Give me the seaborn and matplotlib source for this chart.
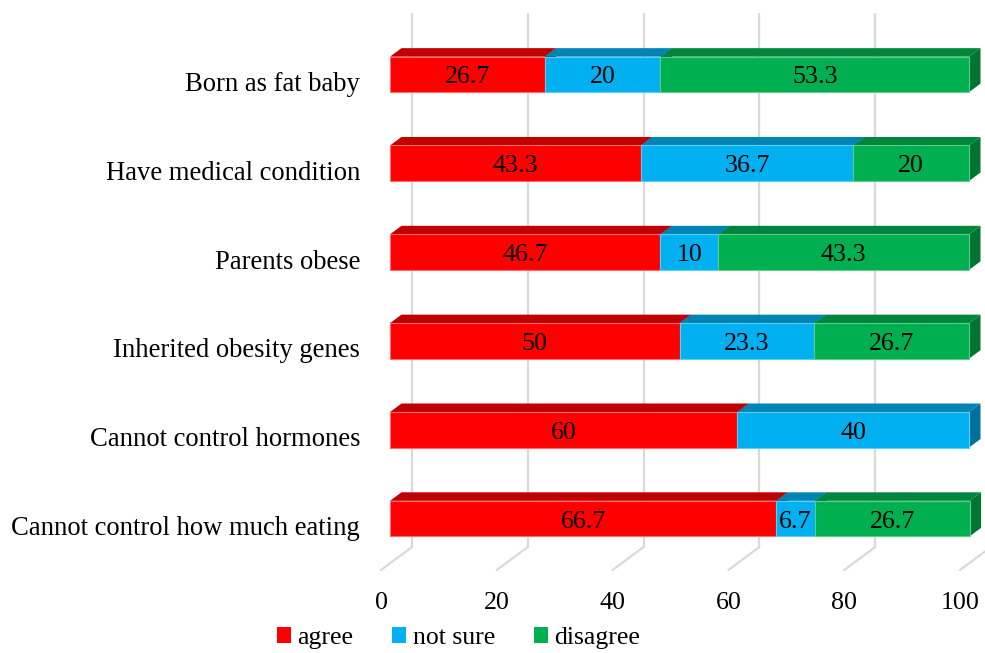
import numpy as np
import pandas as pd
import matplotlib
matplotlib.use("Agg")
import matplotlib.pyplot as plt
from matplotlib.patches import Polygon, Patch
from matplotlib.transforms import ScaledTranslation, IdentityTransform
import seaborn as sns

# ---- data -------------------------------------------------------------
categories = [
    "Born as fat baby",
    "Have medical condition",
    "Parents obese",
    "Inherited obesity genes",
    "Cannot control hormones",
    "Cannot control how much eating",
]
agree = [26.7, 43.3, 46.7, 50, 60, 66.7]
not_sure = [20, 36.7, 10, 23.3, 40, 6.7]
disagree = [53.3, 20, 43.3, 26.7, 0, 26.7]
series_names = ["agree", "not sure", "disagree"]
x_ticks = [0, 20, 40, 60, 80, 100]

front_colors = ["#FF0000", "#00B0F0", "#00B050"]
top_colors = ["#C00000", "#0084B4", "#00853D"]
side_colors = ["#A80000", "#00709A", "#007433"]
edge_colors = ["#FF6A6A", "#5CCDF5", "#5CCB8E"]

# ---- figure -----------------------------------------------------------
sns.set_theme(style="white")
plt.rcParams["font.family"] = ["Liberation Serif", "DejaVu Serif"]
plt.rcParams["text.color"] = "black"
plt.rcParams["xtick.color"] = "black"
plt.rcParams["ytick.color"] = "black"
DPI = 100
W, H = 985, 653
fig = plt.figure(figsize=(W / DPI, H / DPI), dpi=DPI)
# axes = front edge of the floor plane
ax = fig.add_axes([381 / W, 1 - 570 / H, (960 - 381) / W, (570 - 37) / H])

df = pd.DataFrame({"category": categories, "agree": agree,
                   "not sure": not_sure, "disagree": disagree})

FS_CAT = 19.2
FS = 18.7

def px(dx, dy):
    return ScaledTranslation(dx / DPI, dy / DPI, fig.dpi_scale_trans)

# oblique depth offsets (pixels)
BAR_SHIFT = (9, 7)      # bar front face relative to floor front
DEPTH = (11.5, 8.5)     # depth of the bars
WALL = (31, 23)         # back wall relative to floor front

ax.set_xlim(0, 100)

# back-wall gridlines
grid_tr = ax.transData + px(*WALL)
for v in x_ticks:
    ax.plot([v, v], [5.5, -0.5], color="#D9D9D9", lw=1.6,
            transform=grid_tr, clip_on=False, zorder=0)

# stacked bars
left = np.zeros(len(categories))
bar_groups = []
for i, name in enumerate(series_names):
    sns.barplot(data=df, y="category", x=name, left=left, orient="y",
                color=front_colors[i], width=0.4, ax=ax, saturation=1,
                edgecolor=edge_colors[i], linewidth=0.8)
    bar_groups.append((i, list(ax.patches[-len(categories):])))
    left = left + np.array(df[name])

ax.set_ylim(5.5, -0.5)
ax.set_xlim(0, 100)
fig.canvas.draw()

bar_tr = ax.transData + px(*BAR_SHIFT)
label_tr = ax.transData + px(BAR_SHIFT[0], BAR_SHIFT[1] - 3)
ddx, ddy = DEPTH
ident = IdentityTransform()
for i, patches in bar_groups:
    for p in patches:
        p.set_transform(bar_tr)
        p.set_clip_on(False)
        p.set_zorder(3 + i)
        x0, y0 = p.get_x(), p.get_y()
        w, h = p.get_width(), p.get_height()
        if w <= 0:
            p.set_visible(False)
            continue
        # display corners of the front face
        (xl, yb), (xr, yt) = bar_tr.transform([(x0, y0 + h), (x0 + w, y0)])
        top = [(xl, yt), (xr, yt), (xr + ddx, yt + ddy), (xl + ddx, yt + ddy)]
        side = [(xr, yb), (xr + ddx, yb + ddy), (xr + ddx, yt + ddy), (xr, yt)]
        ax.add_patch(Polygon(side, closed=True, transform=ident,
                             facecolor=side_colors[i], lw=0,
                             zorder=2.5 + i, clip_on=False))
        ax.add_patch(Polygon(top, closed=True, transform=ident,
                             facecolor=top_colors[i], lw=0,
                             zorder=2.5 + i, clip_on=False))
        ax.text(x0 + w / 2, y0 + h / 2, f"{w:g}", transform=label_tr,
                ha="center", va="center", fontsize=FS, color="black",
                zorder=10, clip_on=False)

# floor lines from front edge to back wall
for v in x_ticks:
    fx, fy = ax.transData.transform((v, 5.5))
    ax.plot([fx, fx + WALL[0]], [fy, fy + WALL[1]], transform=ident,
            color="#D9D9D9", lw=1.6, zorder=0, clip_on=False)

# axes styling
for s in ax.spines.values():
    s.set_visible(False)
ax.set_xlabel("")
ax.set_ylabel("")
ax.set_xticks(x_ticks)
ax.set_xticklabels([str(t) for t in x_ticks], fontsize=FS)
ax.set_yticks(range(len(categories)))
ax.set_yticklabels(categories, fontsize=FS_CAT)
ax.tick_params(axis="x", length=0, pad=16)
ax.tick_params(axis="y", length=0, pad=15)
ax.set_facecolor("none")
ax.grid(False)

handles = [Patch(facecolor=c, edgecolor="none") for c in front_colors]
fig.legend(handles, series_names, loc="center",
           bbox_to_anchor=(458.5 / W, 1 - 638 / H), ncol=3, frameon=False,
           fontsize=18.5, handlelength=0.55, handleheight=0.55,
           handletextpad=0.25, columnspacing=1.5)

fig.savefig("out.png", dpi=DPI)
